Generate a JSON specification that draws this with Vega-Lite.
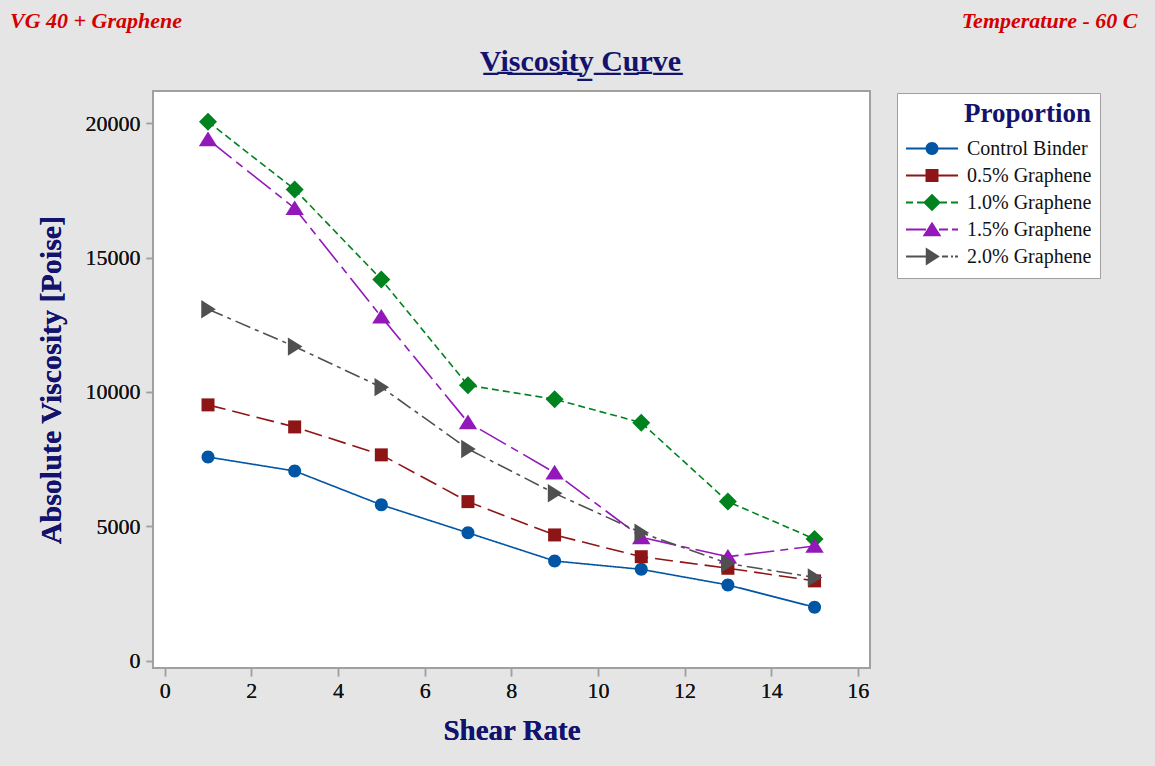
{
  "$schema": "https://vega.github.io/schema/vega-lite/v6.json",
  "autosize": {"type": "none"},
  "width": 717,
  "height": 577,
  "padding": {"left": 153, "top": 91, "right": 285, "bottom": 98},
  "background": "#e5e5e5",
  "title": {
    "text": "VG 40 + Graphene",
    "anchor": "start",
    "frame": "group",
    "orient": "top",
    "offset": 0,
    "dx": -143,
    "dy": 24,
    "font": "Liberation Serif",
    "fontSize": 22,
    "fontWeight": "bold",
    "fontStyle": "italic",
    "color": "#d40000"
  },
  "config": {
    "view": {"fill": "white", "stroke": "#a0a0a0", "strokeWidth": 2},
    "axis": {
      "grid": false,
      "domain": false,
      "tickColor": "#a0a0a0",
      "tickWidth": 1.5,
      "labelFont": "Liberation Serif",
      "labelFontSize": 22,
      "labelColor": "#111111",
      "titleFont": "Liberation Serif",
      "titleFontWeight": "bold",
      "titleColor": "#13136e"
    },
    "legend": {
      "orient": "none",
      "legendX": 744,
      "legendY": 2,
      "fillColor": "white",
      "strokeColor": "#a0a0a0",
      "padding": 8,
      "titleFont": "Liberation Serif",
      "titleFontSize": 27,
      "titleFontWeight": "bold",
      "titleColor": "#13136e",
      "titleAnchor": "end",
      "titlePadding": 7,
      "labelFont": "Liberation Serif",
      "labelFontSize": 20,
      "labelColor": "#111111",
      "labelOffset": 8,
      "symbolSize": 2704,
      "symbolOpacity": 1,
      "clipHeight": 27,
      "rowPadding": 0
    }
  },
  "data": {
    "values": [
      {"series": "Control Binder", "rate": 1, "viscosity": 7580},
      {"series": "Control Binder", "rate": 3, "viscosity": 7060},
      {"series": "Control Binder", "rate": 5, "viscosity": 5800},
      {"series": "Control Binder", "rate": 7, "viscosity": 4760},
      {"series": "Control Binder", "rate": 9, "viscosity": 3710},
      {"series": "Control Binder", "rate": 11, "viscosity": 3400},
      {"series": "Control Binder", "rate": 13, "viscosity": 2820},
      {"series": "Control Binder", "rate": 15, "viscosity": 1990},
      {"series": "0.5% Graphene", "rate": 1, "viscosity": 9520},
      {"series": "0.5% Graphene", "rate": 3, "viscosity": 8700},
      {"series": "0.5% Graphene", "rate": 5, "viscosity": 7660},
      {"series": "0.5% Graphene", "rate": 7, "viscosity": 5920},
      {"series": "0.5% Graphene", "rate": 9, "viscosity": 4680},
      {"series": "0.5% Graphene", "rate": 11, "viscosity": 3870},
      {"series": "0.5% Graphene", "rate": 13, "viscosity": 3440},
      {"series": "0.5% Graphene", "rate": 15, "viscosity": 2970},
      {"series": "1.0% Graphene", "rate": 1, "viscosity": 20060},
      {"series": "1.0% Graphene", "rate": 3, "viscosity": 17540},
      {"series": "1.0% Graphene", "rate": 5, "viscosity": 14190},
      {"series": "1.0% Graphene", "rate": 7, "viscosity": 10250},
      {"series": "1.0% Graphene", "rate": 9, "viscosity": 9730},
      {"series": "1.0% Graphene", "rate": 11, "viscosity": 8860},
      {"series": "1.0% Graphene", "rate": 13, "viscosity": 5920},
      {"series": "1.0% Graphene", "rate": 15, "viscosity": 4530},
      {"series": "1.5% Graphene", "rate": 1, "viscosity": 19400},
      {"series": "1.5% Graphene", "rate": 3, "viscosity": 16840},
      {"series": "1.5% Graphene", "rate": 5, "viscosity": 12800},
      {"series": "1.5% Graphene", "rate": 7, "viscosity": 8870},
      {"series": "1.5% Graphene", "rate": 9, "viscosity": 7000},
      {"series": "1.5% Graphene", "rate": 11, "viscosity": 4590},
      {"series": "1.5% Graphene", "rate": 13, "viscosity": 3870},
      {"series": "1.5% Graphene", "rate": 15, "viscosity": 4270},
      {"series": "2.0% Graphene", "rate": 1, "viscosity": 13080},
      {"series": "2.0% Graphene", "rate": 3, "viscosity": 11690},
      {"series": "2.0% Graphene", "rate": 5, "viscosity": 10180},
      {"series": "2.0% Graphene", "rate": 7, "viscosity": 7880},
      {"series": "2.0% Graphene", "rate": 9, "viscosity": 6230},
      {"series": "2.0% Graphene", "rate": 11, "viscosity": 4760},
      {"series": "2.0% Graphene", "rate": 13, "viscosity": 3620},
      {"series": "2.0% Graphene", "rate": 15, "viscosity": 3100}
    ]
  },
  "encoding": {
    "x": {
      "field": "rate",
      "type": "quantitative",
      "scale": {"domain": [-0.27, 16.28], "nice": false, "zero": false},
      "axis": {
        "orient": "bottom",
        "values": [0, 2, 4, 6, 8, 10, 12, 14, 16],
        "tickSize": 8,
        "labelPadding": 4,
        "title": "Shear Rate",
        "titleFontSize": 29,
        "titlePadding": 15
      }
    },
    "y": {
      "field": "viscosity",
      "type": "quantitative",
      "scale": {"domain": [-272, 21202], "nice": false, "zero": false},
      "axis": {
        "orient": "left",
        "values": [0, 5000, 10000, 15000, 20000],
        "format": "d",
        "tickSize": 7,
        "labelPadding": 6,
        "title": "Absolute Viscosity [Poise]",
        "titleFontSize": 30,
        "titlePadding": 19
      }
    }
  },
  "resolve": {"scale": {"color": "independent", "shape": "independent"}},
  "layer": [
    {
      "mark": {"type": "line", "strokeWidth": 1.6},
      "encoding": {
        "color": {
          "field": "series",
          "type": "nominal",
          "sort": null,
          "scale": {
            "domain": ["Control Binder", "0.5% Graphene", "1.0% Graphene", "1.5% Graphene", "2.0% Graphene"],
            "range": ["#0055a4", "#8e1515", "#00821e", "#9318b9", "#505050"]
          },
          "legend": null
        },
        "strokeDash": {
          "field": "series",
          "type": "nominal",
          "sort": null,
          "scale": {
            "domain": ["Control Binder", "0.5% Graphene", "1.0% Graphene", "1.5% Graphene", "2.0% Graphene"],
            "range": [[1, 0], [18, 7], [7, 4], [30, 6, 8, 6], [16, 5, 4, 5]]
          },
          "legend": null
        }
      }
    },
    {
      "mark": {"type": "point", "filled": true, "opacity": 1, "size": 400},
      "encoding": {
        "x": {
          "field": "rate",
          "type": "quantitative",
          "axis": {
            "orient": "top",
            "labels": false,
            "ticks": false,
            "domain": false,
            "title": "V\u0332i\u0332s\u0332c\u0332o\u0332s\u0332i\u0332t\u0332y\u0332 \u0332C\u0332u\u0332r\u0332v\u0332e\u0332",
            "titleFontSize": 30,
            "titleAlign": "center",
            "titleBaseline": "alphabetic",
            "titleX": 427,
            "titleY": -21
          }
        },
        "y": {
          "field": "viscosity",
          "type": "quantitative",
          "axis": {
            "orient": "right",
            "labels": false,
            "ticks": false,
            "domain": false,
            "title": "Temperature - 60 C",
            "titleAngle": 0,
            "titleFontSize": 22,
            "titleFontStyle": "italic",
            "titleColor": "#d40000",
            "titleAlign": "right",
            "titleBaseline": "alphabetic",
            "titleX": 267,
            "titleY": -64
          }
        },
        "color": {
          "field": "series",
          "type": "nominal",
          "sort": null,
          "scale": {
            "domain": ["Control Binder", "0.5% Graphene", "1.0% Graphene", "1.5% Graphene", "2.0% Graphene"],
            "range": ["#0055a4", "#8e1515", "#00821e", "#9318b9", "#505050"]
          },
          "legend": null
        },
        "shape": {
          "field": "series",
          "type": "nominal",
          "sort": null,
          "scale": {
            "domain": ["Control Binder", "0.5% Graphene", "1.0% Graphene", "1.5% Graphene", "2.0% Graphene"],
            "range": [
              "M-0.65,0A0.65,0.65,0,1,1,0.65,0A0.65,0.65,0,1,1,-0.65,0Z",
              "M-0.65,-0.65H0.65V0.65H-0.65Z",
              "M0,-0.9L0.9,0L0,0.9L-0.9,0Z",
              "M0,-0.78L0.92,0.68L-0.92,0.68Z",
              "M0.78,0L-0.68,0.92L-0.68,-0.92Z"
            ]
          },
          "legend": null
        }
      }
    },
    {
      "mark": {"type": "point", "filled": true, "opacity": 0},
      "encoding": {
        "color": {
          "field": "series",
          "type": "nominal",
          "sort": null,
          "title": "Proportion",
          "scale": {
            "domain": ["Control Binder", "0.5% Graphene", "1.0% Graphene", "1.5% Graphene", "2.0% Graphene"],
            "range": ["#0055a4", "#8e1515", "#00821e", "#9318b9", "#505050"]
          }
        },
        "shape": {
          "field": "series",
          "type": "nominal",
          "sort": null,
          "title": "Proportion",
          "scale": {
            "domain": ["Control Binder", "0.5% Graphene", "1.0% Graphene", "1.5% Graphene", "2.0% Graphene"],
            "range": [
              "M-1,-0.034H1V0.034H-1ZM-0.25,0A0.25,0.25,0,1,1,0.25,0A0.25,0.25,0,1,1,-0.25,0Z",
              "M-1,-0.034H1V0.034H-1ZM-0.25,-0.25H0.25V0.25H-0.25Z",
              "M-1,-0.034H-0.731V0.034H-1ZM-0.577,-0.034H-0.308V0.034H-0.577ZM0.308,-0.034H0.577V0.034H0.308ZM0.731,-0.034H1V0.034H0.731ZM0,-0.34L0.34,0L0,0.34L-0.34,0Z",
              "M-1,-0.034H-0.231V0.034H-1ZM0.269,-0.034H0.615V0.034H0.269ZM0.769,-0.034H1V0.034H0.769ZM0,-0.3L0.36,0.26L-0.36,0.26Z",
              "M-1,-0.034H-0.154V0.034H-1ZM0.385,-0.034H0.615V0.034H0.385ZM0.731,-0.034H0.808V0.034H0.731ZM0.885,-0.034H1V0.034H0.885ZM0.3,0L-0.24,0.35L-0.24,-0.35Z"
            ]
          }
        }
      }
    }
  ]
}
